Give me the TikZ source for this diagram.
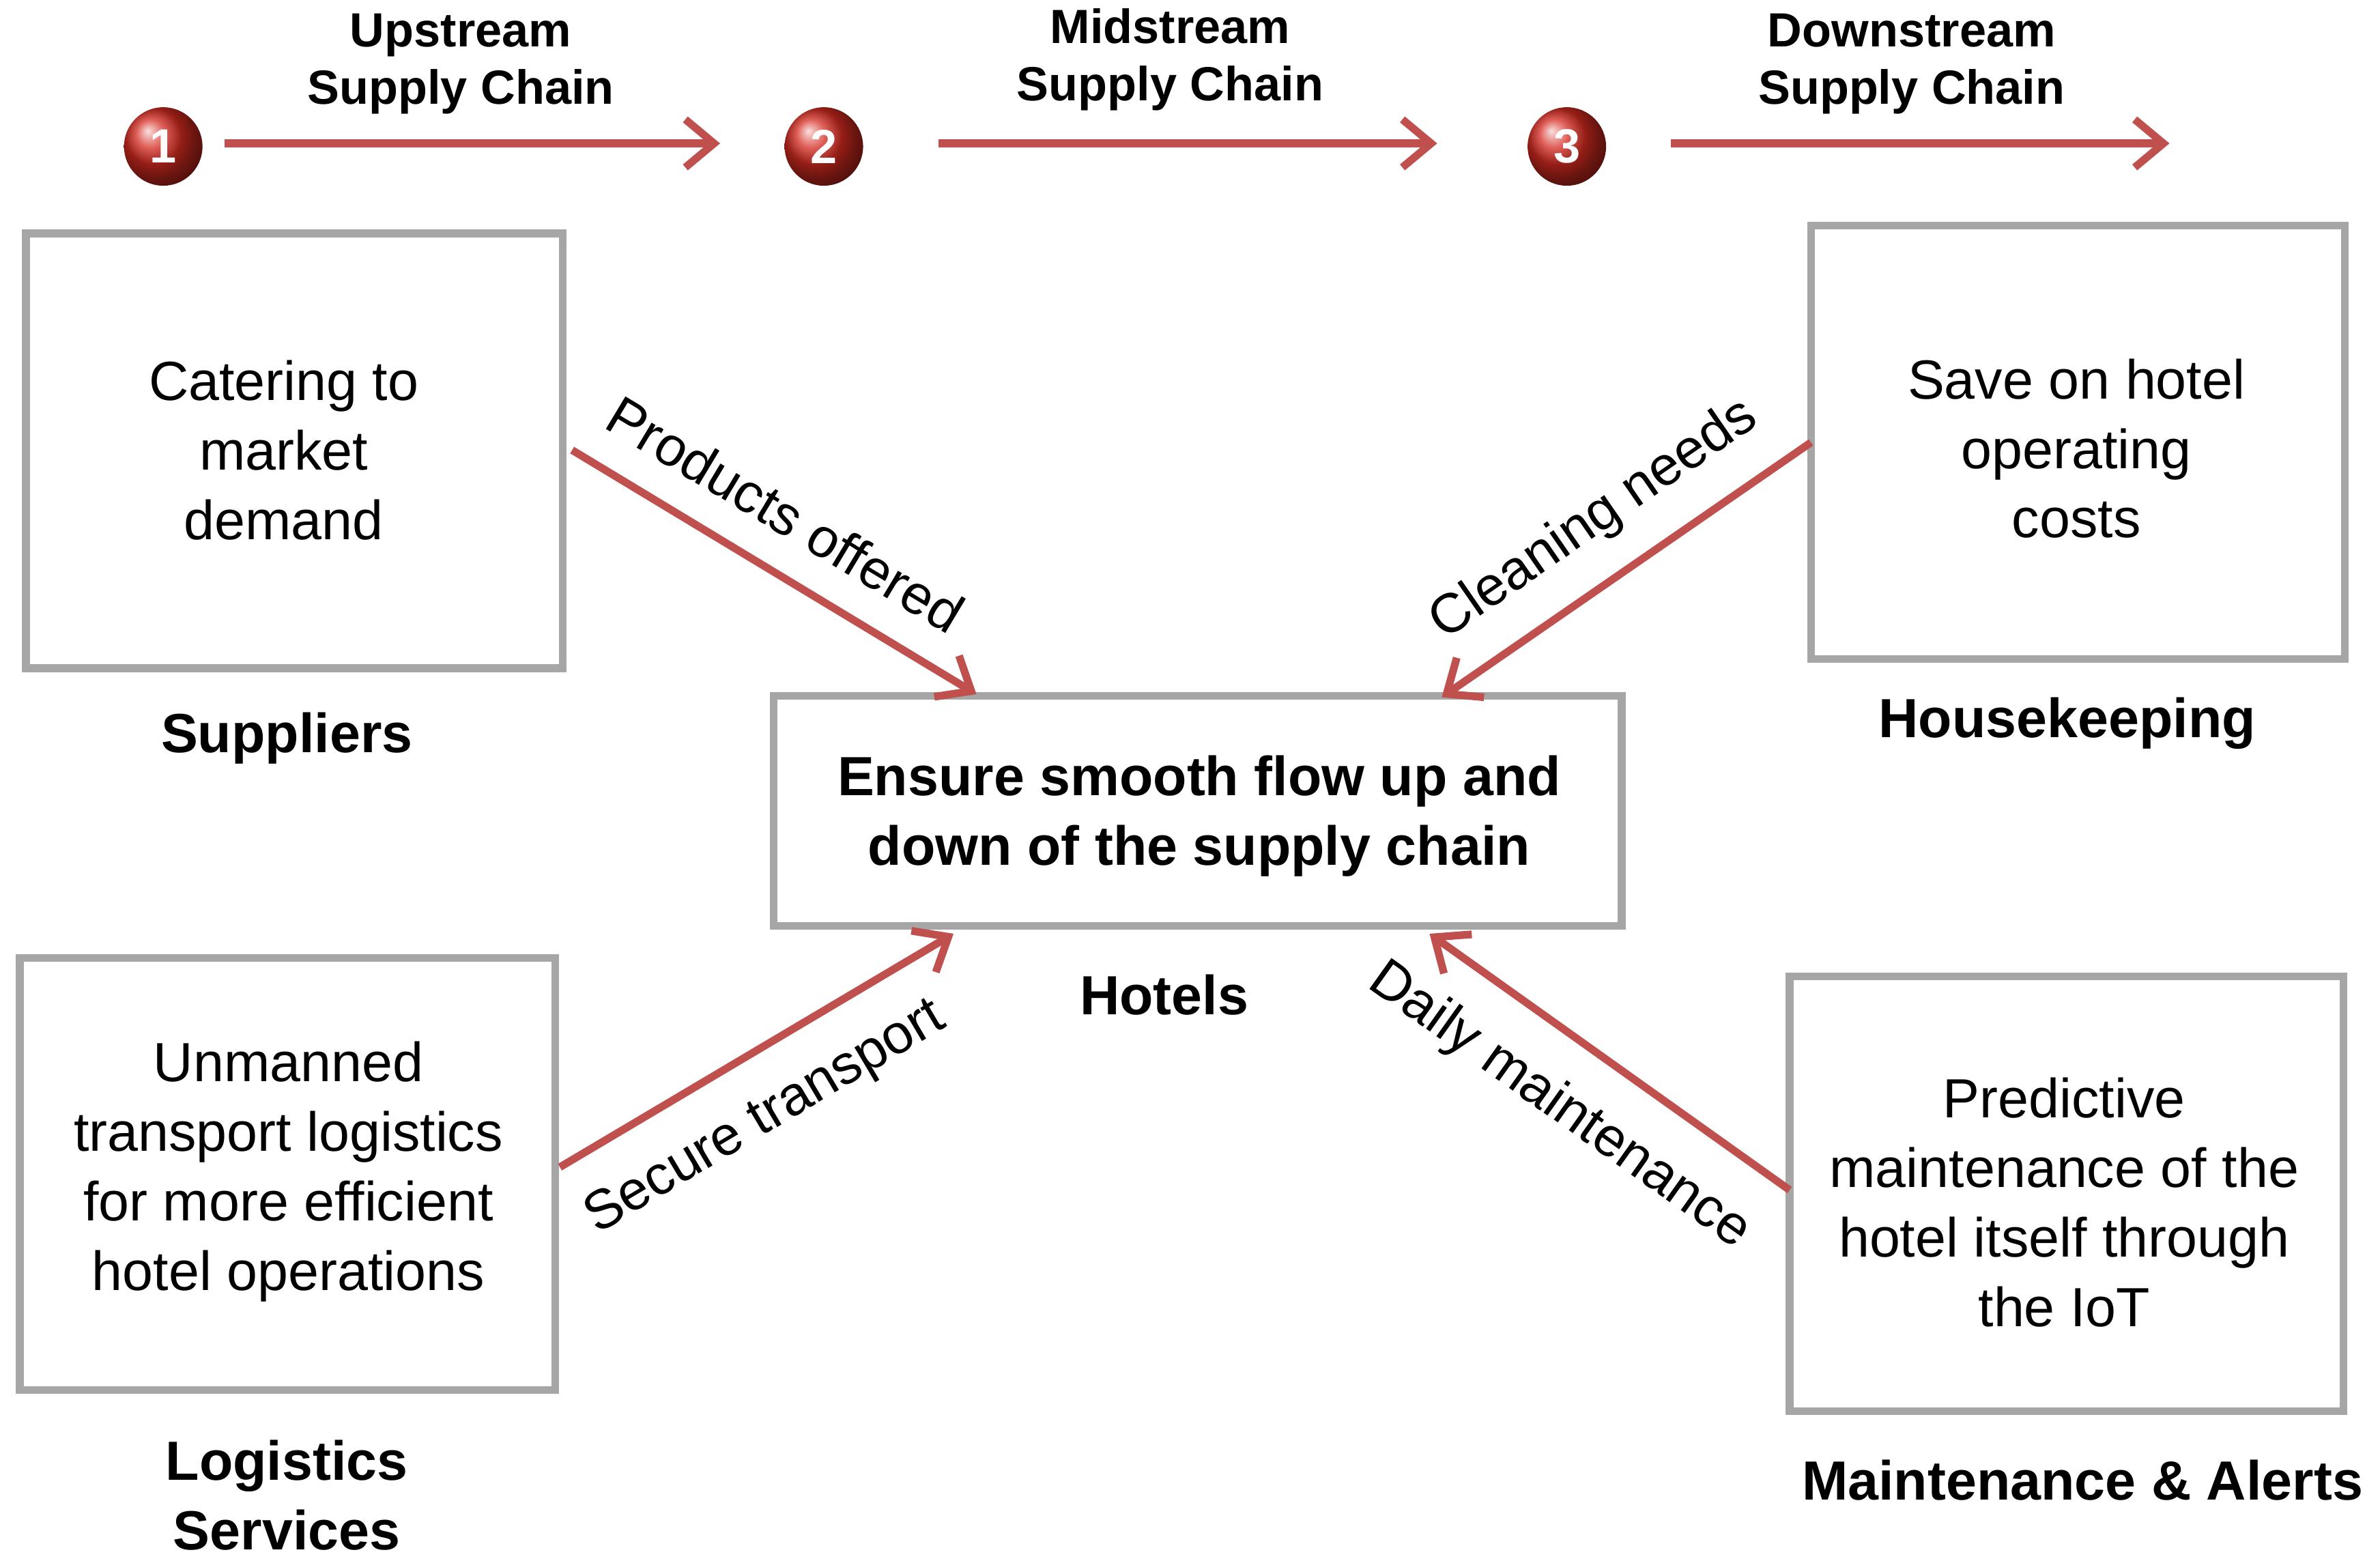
\documentclass[tikz,border=0pt]{standalone}
\usepackage{fontspec}
\setmainfont{Liberation Sans}
\usetikzlibrary{arrows.meta,shadings}
\definecolor{arr}{HTML}{C0504D}
\definecolor{bx}{HTML}{A6A6A6}
\definecolor{ballc}{HTML}{D42A20}
\begin{document}
\begin{tikzpicture}[x=0.02235cm,y=-0.02235cm,
  box/.style={draw=bx,line width=3.2pt,inner sep=0pt},
  txt/.style={font=\fontsize{23}{29}\selectfont,align=center},
  lab/.style={font=\bfseries\fontsize{23}{29}\selectfont,align=center},
  head/.style={font=\bfseries\fontsize{20}{24}\selectfont,align=center},
  ar/.style={draw=arr,line width=3.2pt,-{Straight Barb[length=12pt,width=20pt,line width=3.2pt]}},
  ball/.style={circle,inner sep=0pt,minimum size=1.15cm,ball color=ballc,text=white,font=\bfseries\fontsize{20}{24}\selectfont}]
\useasboundingbox (0,0) rectangle (1560,1023);
% boxes
\draw[box] (17,153) rectangle (369,438); \node[txt] (t1) at (186,295) {Catering to\\market\\demand};
\coordinate (b1) at (375,295);
\draw[box] (1187,148) rectangle (1537,432); \node[txt] (t2) at (1361,294) {Save on hotel\\operating\\costs};
\coordinate (b2) at (1187,290);
\draw[box] (507,456) rectangle (1063,607); \node[lab] (tc) at (786,535) {Ensure smooth flow up and\\down of the supply chain};
\draw[box] (13,628) rectangle (364,911); \node[txt] (t3) at (189,768) {Unmanned\\transport logistics\\for more efficient\\hotel operations};
\coordinate (b3) at (367,765);
\draw[box] (1173,640) rectangle (1536,925); \node[txt] (t4) at (1353,788) {Predictive\\maintenance of the\\hotel itself through\\the IoT};
\coordinate (b4) at (1173,780);
% labels
\node[lab] (l1) at (188,484) {Suppliers};
\node[lab] (l2) at (1355,474) {Housekeeping};
\node[lab] (lc) at (763,652) {Hotels};
\node[lab] (l3) at (188,980) {Logistics\\Services};
\node[lab] (l4) at (1365,970) {Maintenance \& Alerts};
% diagonal arrows
\coordinate (c1) at (640,455); \coordinate (c2) at (945,457);
\coordinate (c3) at (625,612); \coordinate (c4) at (937,612);
\draw[ar] (b1) -- (c1);
\draw[ar] (b2) -- (c2);
\draw[ar] (b3) -- (c3);
\draw[ar] (b4) -- (c4);
\node[txt,rotate=-31] (d1) at (515,337) {Products offered};
\node[txt,rotate=34.6] (d2) at (1045,341) {Cleaning needs};
\node[txt,rotate=30.7] (d3) at (502,733) {Secure transport};
\node[txt,rotate=-35.4] (d4) at (1022,725) {Daily maintenance};
% header
\node[ball] (n1) at (107,96) {1};
\node[ball] (n2) at (540,96) {2};
\node[ball] (n3) at (1027,96) {3};
\coordinate (h1a) at (147,94); \coordinate (h1b) at (472,94);
\coordinate (h2a) at (615,94); \coordinate (h2b) at (942,94);
\coordinate (h3a) at (1095,94); \coordinate (h3b) at (1422,94);
\draw[ar] (h1a) -- (h1b);
\draw[ar] (h2a) -- (h2b);
\draw[ar] (h3a) -- (h3b);
\node[head] (u) at (302,42) {Upstream\\Supply Chain};
\node[head] (m) at (767,39) {Midstream\\Supply Chain};
\node[head] (d) at (1253,42) {Downstream\\Supply Chain};
\end{tikzpicture}
\end{document}
